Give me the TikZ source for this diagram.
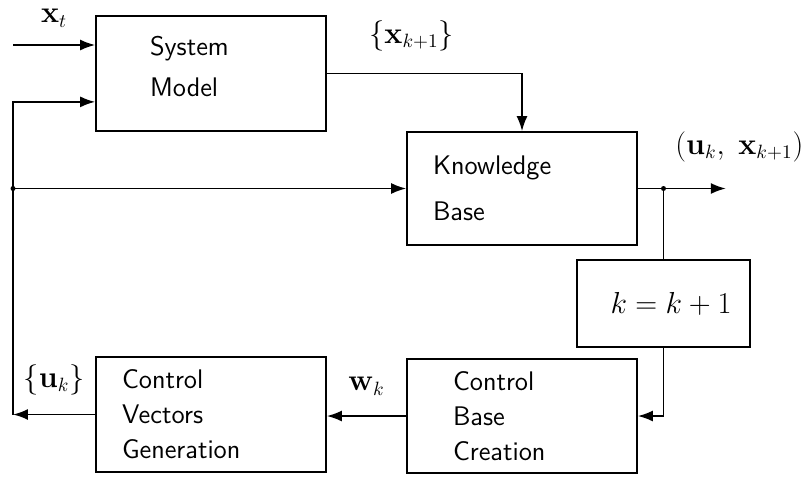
\documentclass[tikz,border=0pt]{standalone}
\usepackage{amsmath,amssymb}
\usetikzlibrary{arrows.meta}

\begin{document}
\begin{tikzpicture}[x=0.02cm,y=-0.02cm,line width=1pt,>={Latex[length=3mm,width=2.2mm]},
    block/.style={draw,minimum width=4.6cm,minimum height=2.3cm,align=left,font=\sffamily\fontsize{15.3}{20}\selectfont},
    lbl/.style={font=\fontsize{16}{19}\selectfont}]
    \useasboundingbox (0,0) rectangle (804,477);

    \node[block,inner xsep=1.08cm,text width=2.44cm] (sysmodel) at (211,73.5) {System\\[3pt]Model\\[-12pt]\mbox{}};
    \node[block,inner xsep=0.52cm,text width=3.56cm,minimum height=2.26cm] (knowbase) at (522,188.5) {Knowledge\\[6pt]Base};
    \node[block,minimum width=3.46cm,minimum height=1.74cm,align=center,font=\fontsize{16}{19}\selectfont] (kinc) at (663.5,303.5) {\hspace*{0.3cm}$k=k+1$};
    \node[block,inner xsep=0.92cm,text width=2.76cm,minimum height=2.28cm] (cbase) at (522,416) {Control\\Base\\Creation};
    \node[block,inner xsep=0.52cm,text width=3.56cm] (cvgen) at (211,414.5) {Control\\Vectors\\Generation};

    \coordinate (xin) at (13,45);
    \coordinate (ucorner) at (xin |- cvgen.west);
    \coordinate (fb) at (xin |- knowbase.west);
    \coordinate (split) at (kinc.north |- knowbase.east);
    \coordinate (kbout) at ([xshift=1.76cm]knowbase.east);

    \draw[->] (xin) -- (xin -| sysmodel.west) node[lbl,midway,above=0.22cm] {$\mathbf{x}_t$};
    \draw[->] (ucorner) |- ([yshift=0.6cm]sysmodel.south west);
    \draw[->] (fb) -- (knowbase.west);
    \fill (fb) circle (2.5);
    \draw[->] (sysmodel.east) -| (knowbase.north) node[lbl,pos=0.217,above=0.32cm] {$\{\mathbf{x}_{k+1}\}$};
    \draw[->] (knowbase.east) -- (kbout) node[lbl,at end,above=0.4cm,xshift=0.27cm] {$(\mathbf{u}_k,\;\mathbf{x}_{k+1})$};
    \fill (split) circle (2.5);
    \draw (split) -- (kinc.north);
    \draw[->] (kinc.south) |- (cbase.east);
    \draw[->] (cbase.west) -- (cbase.west -| cvgen.east) node[lbl,midway,above=0.28cm] {$\mathbf{w}_k$};
    \draw[->] (cvgen.west) -- (ucorner) node[lbl,midway,above=0.26cm] {$\{\mathbf{u}_k\}$};
\end{tikzpicture}
\end{document}
